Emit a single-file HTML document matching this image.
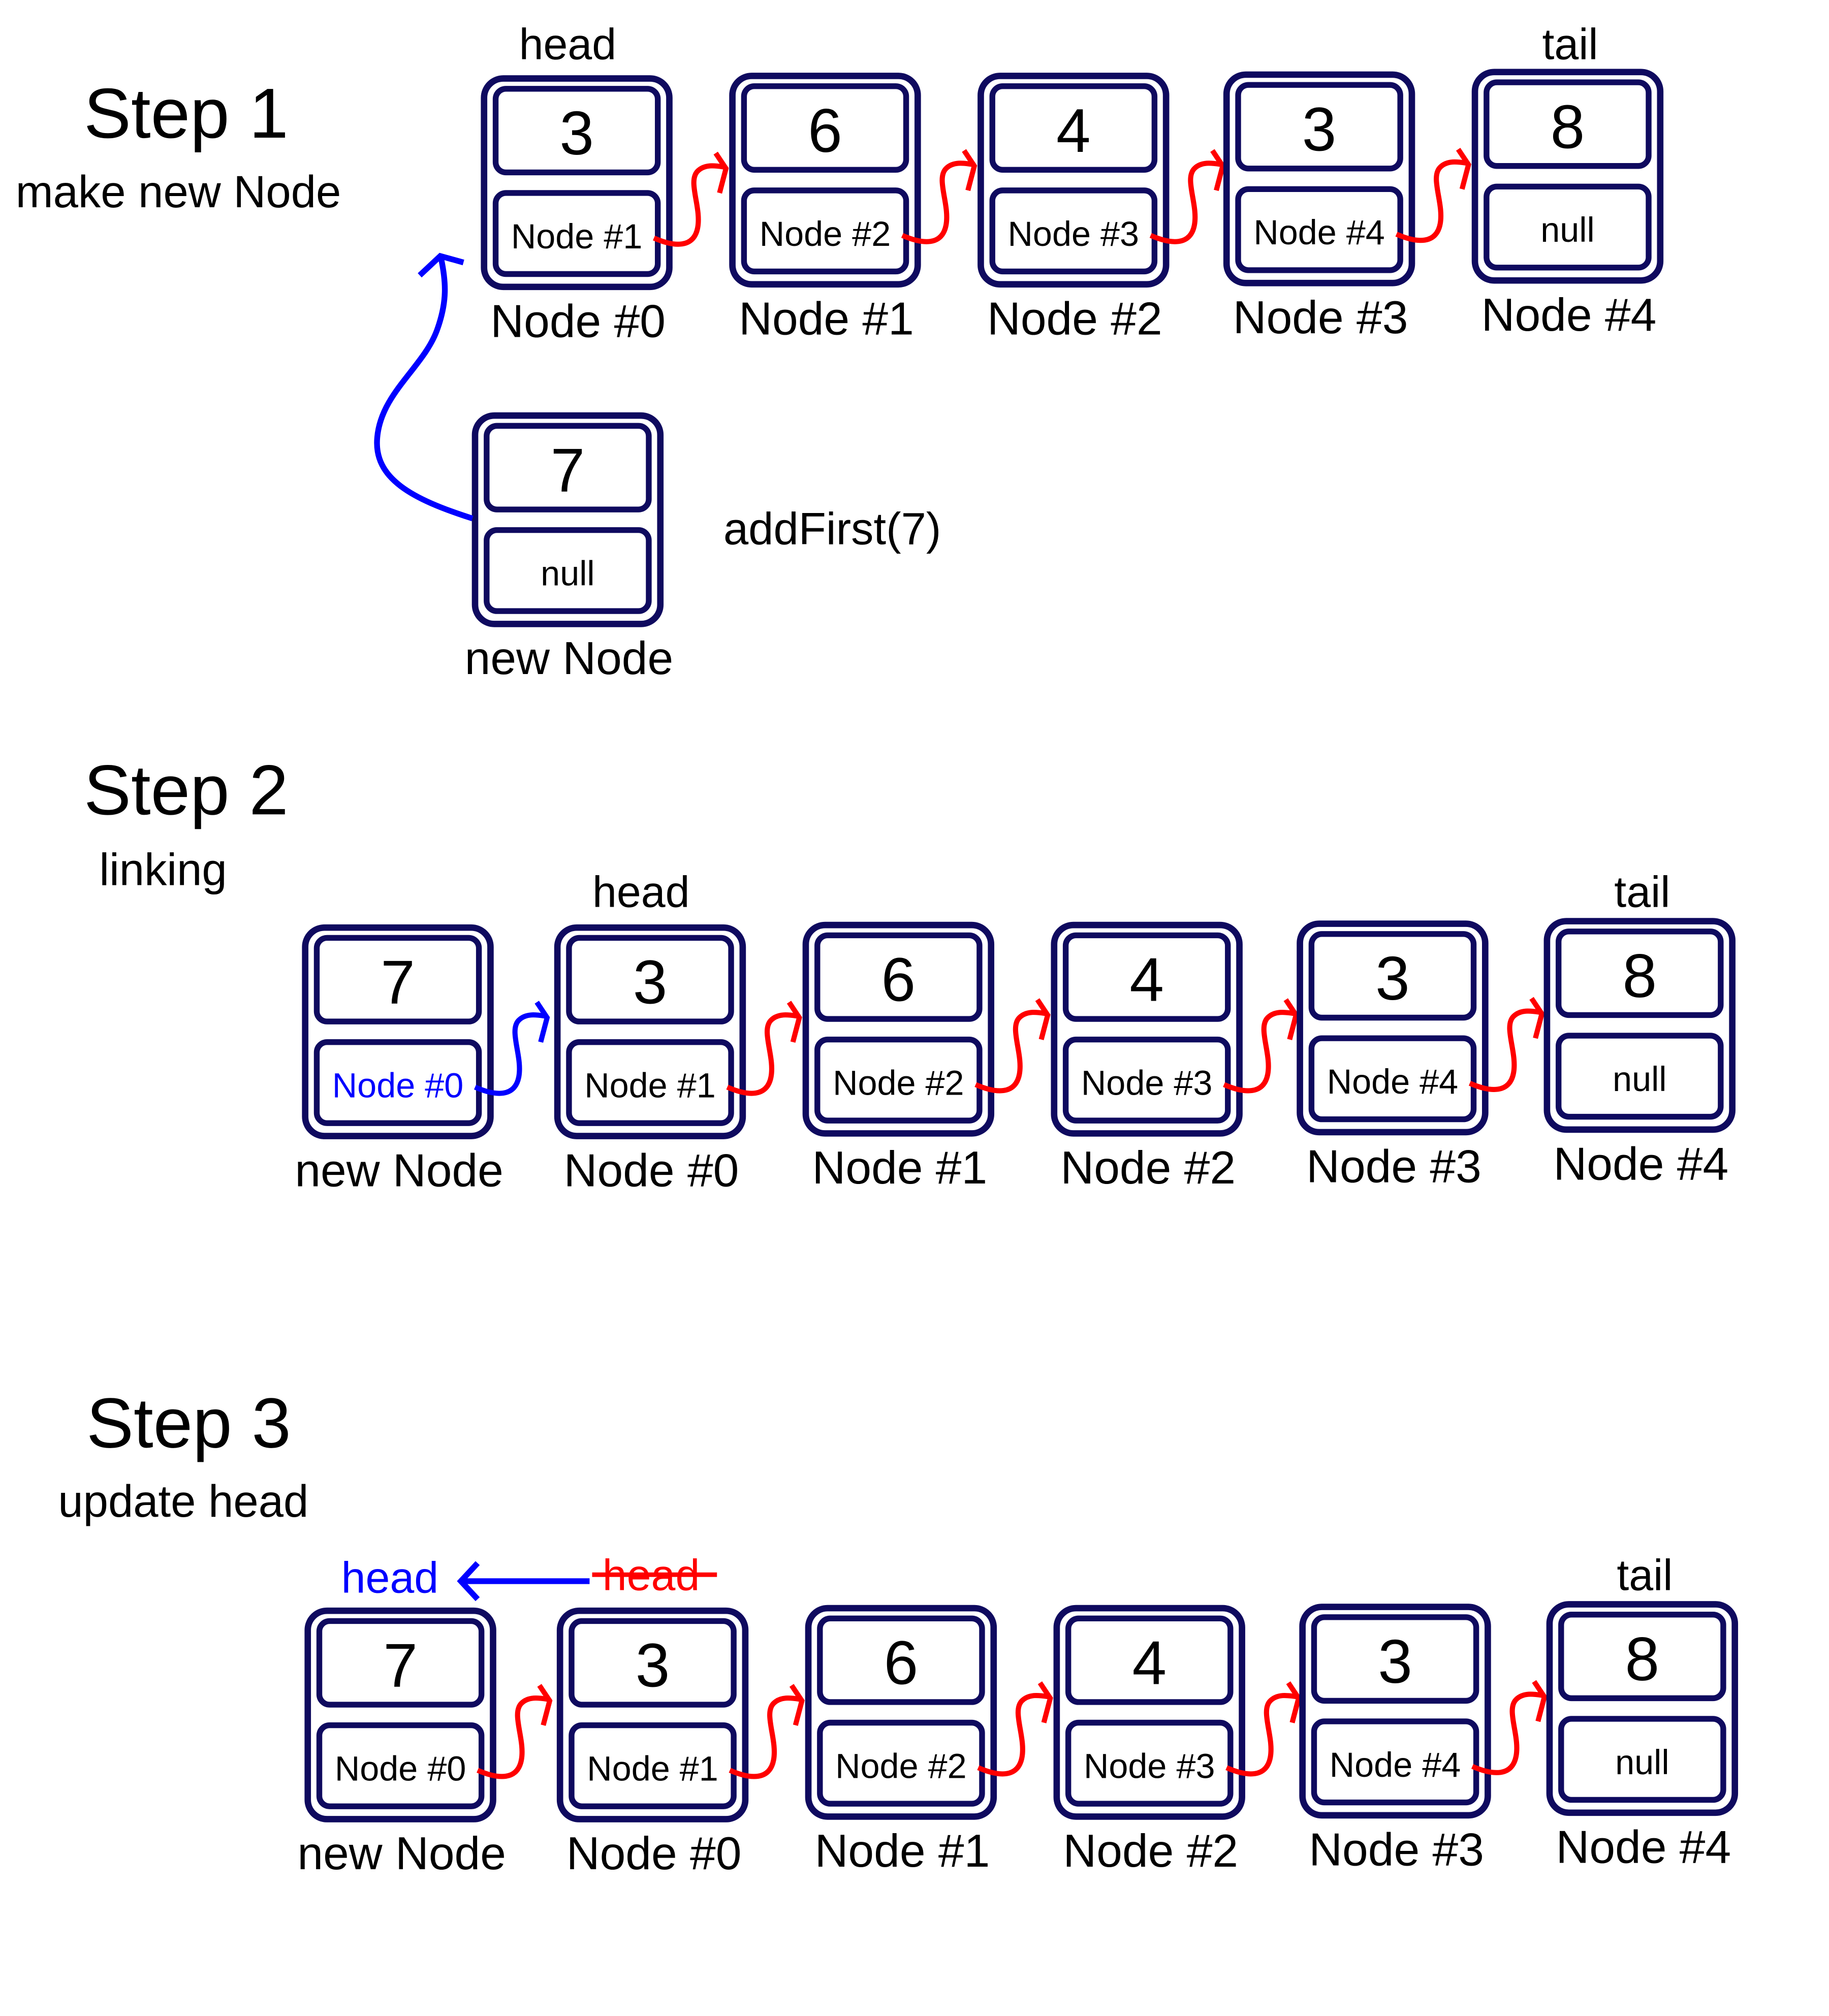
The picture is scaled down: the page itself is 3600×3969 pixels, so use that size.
<!DOCTYPE html>
<html><head><meta charset="utf-8"><style>
html,body{margin:0;padding:0;background:#fff;}
svg{display:block;}
text{font-family:"Liberation Sans",sans-serif;fill:#000;}
</style></head><body>
<svg width="3600" height="3969" viewBox="0 0 1421 1567" xmlns="http://www.w3.org/2000/svg">
<defs>
<g id="fr" fill="none" stroke="#0f0a5f">
<rect x="2" y="2" width="144" height="162" rx="15" stroke-width="5"/>
<rect x="11" y="10" width="126" height="65" rx="8" stroke-width="4.5"/>
<rect x="11" y="91" width="126" height="63" rx="8" stroke-width="4.5"/>
</g>
<g id="cr" fill="none" stroke="#ff0000" stroke-width="4">
<path d="M134,126 C150,133 165,134 168,118 C171,102 160,82 168,74 C174,68 183,70 190,71"/>
<path d="M182,60 L190,72 L185,91"/>
</g>
<g id="cb" fill="none" stroke="#0000ff" stroke-width="4">
<path d="M134,126 C150,133 165,134 168,118 C171,102 160,82 168,74 C174,68 183,70 190,71"/>
<path d="M182,60 L190,72 L185,91"/>
</g>
</defs>

<!-- Step 1 -->
<text x="65" y="107" font-size="55">Step 1</text>
<text x="12" y="161" font-size="35">make new Node</text>
<text x="441" y="46" font-size="34" text-anchor="middle">head</text>
<text x="1220" y="46" font-size="34" text-anchor="middle">tail</text>

<g transform="translate(374,59)"><use href="#fr"/><use href="#cr"/><text x="74" y="61" font-size="48" text-anchor="middle">3</text><text x="74" y="134" font-size="27" text-anchor="middle">Node #1</text><text x="75" y="203" font-size="36" text-anchor="middle">Node #0</text></g>
<g transform="translate(567,57)"><use href="#fr"/><use href="#cr"/><text x="74" y="61" font-size="48" text-anchor="middle">6</text><text x="74" y="134" font-size="27" text-anchor="middle">Node #2</text><text x="75" y="203" font-size="36" text-anchor="middle">Node #1</text></g>
<g transform="translate(760,57)"><use href="#fr"/><use href="#cr"/><text x="74" y="61" font-size="48" text-anchor="middle">4</text><text x="74" y="134" font-size="27" text-anchor="middle">Node #3</text><text x="75" y="203" font-size="36" text-anchor="middle">Node #2</text></g>
<g transform="translate(951,56)"><use href="#fr"/><use href="#cr"/><text x="74" y="61" font-size="48" text-anchor="middle">3</text><text x="74" y="134" font-size="27" text-anchor="middle">Node #4</text><text x="75" y="203" font-size="36" text-anchor="middle">Node #3</text></g>
<g transform="translate(1144,54)"><use href="#fr"/><text x="74" y="61" font-size="48" text-anchor="middle">8</text><text x="74" y="134" font-size="27" text-anchor="middle">null</text><text x="75" y="203" font-size="36" text-anchor="middle">Node #4</text></g>

<g transform="translate(367,321)"><use href="#fr"/><text x="74" y="61" font-size="48" text-anchor="middle">7</text><text x="74" y="134" font-size="27" text-anchor="middle">null</text><text x="75" y="203" font-size="36" text-anchor="middle">new Node</text></g>
<text x="562" y="423" font-size="35">addFirst(7)</text>
<g fill="none" stroke="#0000ff" stroke-width="4.5">
<path d="M367,403 C320,388 290,372 293,340 C296,305 330,285 340,255 C347,235 347,220 342,198"/>
<path d="M326,214 L342,199 L360,204"/>
</g>

<!-- Step 2 -->
<text x="65" y="633" font-size="55">Step 2</text>
<text x="77" y="688" font-size="35">linking</text>
<text x="498" y="705" font-size="34" text-anchor="middle">head</text>
<text x="1276" y="705" font-size="34" text-anchor="middle">tail</text>

<g transform="translate(235,719)"><use href="#fr"/><use href="#cb"/><text x="74" y="61" font-size="48" text-anchor="middle">7</text><text x="74" y="134" font-size="27" text-anchor="middle" style="fill:#0000ff">Node #0</text><text x="75" y="203" font-size="36" text-anchor="middle">new Node</text></g>
<g transform="translate(431,719)"><use href="#fr"/><use href="#cr"/><text x="74" y="61" font-size="48" text-anchor="middle">3</text><text x="74" y="134" font-size="27" text-anchor="middle">Node #1</text><text x="75" y="203" font-size="36" text-anchor="middle">Node #0</text></g>
<g transform="translate(624,717)"><use href="#fr"/><use href="#cr"/><text x="74" y="61" font-size="48" text-anchor="middle">6</text><text x="74" y="134" font-size="27" text-anchor="middle">Node #2</text><text x="75" y="203" font-size="36" text-anchor="middle">Node #1</text></g>
<g transform="translate(817,717)"><use href="#fr"/><use href="#cr"/><text x="74" y="61" font-size="48" text-anchor="middle">4</text><text x="74" y="134" font-size="27" text-anchor="middle">Node #3</text><text x="75" y="203" font-size="36" text-anchor="middle">Node #2</text></g>
<g transform="translate(1008,716)"><use href="#fr"/><use href="#cr"/><text x="74" y="61" font-size="48" text-anchor="middle">3</text><text x="74" y="134" font-size="27" text-anchor="middle">Node #4</text><text x="75" y="203" font-size="36" text-anchor="middle">Node #3</text></g>
<g transform="translate(1200,714)"><use href="#fr"/><text x="74" y="61" font-size="48" text-anchor="middle">8</text><text x="74" y="134" font-size="27" text-anchor="middle">null</text><text x="75" y="203" font-size="36" text-anchor="middle">Node #4</text></g>

<!-- Step 3 -->
<text x="67" y="1125" font-size="55">Step 3</text>
<text x="45" y="1179" font-size="35">update head</text>
<text x="265" y="1238" font-size="34" style="fill:#0000ff">head</text>
<g fill="none" stroke="#0000ff" stroke-width="4.5">
<path d="M458,1229 L357,1229"/>
<path d="M371,1215 L358,1229 L371,1243"/>
</g>
<text x="468" y="1236" font-size="34" style="fill:#ff0000">head</text>
<path d="M460,1224 L557,1224" stroke="#ff0000" stroke-width="3.5"/>
<text x="1278" y="1236" font-size="34" text-anchor="middle">tail</text>

<g transform="translate(237,1250)"><use href="#fr"/><use href="#cr"/><text x="74" y="61" font-size="48" text-anchor="middle">7</text><text x="74" y="134" font-size="27" text-anchor="middle">Node #0</text><text x="75" y="203" font-size="36" text-anchor="middle">new Node</text></g>
<g transform="translate(433,1250)"><use href="#fr"/><use href="#cr"/><text x="74" y="61" font-size="48" text-anchor="middle">3</text><text x="74" y="134" font-size="27" text-anchor="middle">Node #1</text><text x="75" y="203" font-size="36" text-anchor="middle">Node #0</text></g>
<g transform="translate(626,1248)"><use href="#fr"/><use href="#cr"/><text x="74" y="61" font-size="48" text-anchor="middle">6</text><text x="74" y="134" font-size="27" text-anchor="middle">Node #2</text><text x="75" y="203" font-size="36" text-anchor="middle">Node #1</text></g>
<g transform="translate(819,1248)"><use href="#fr"/><use href="#cr"/><text x="74" y="61" font-size="48" text-anchor="middle">4</text><text x="74" y="134" font-size="27" text-anchor="middle">Node #3</text><text x="75" y="203" font-size="36" text-anchor="middle">Node #2</text></g>
<g transform="translate(1010,1247)"><use href="#fr"/><use href="#cr"/><text x="74" y="61" font-size="48" text-anchor="middle">3</text><text x="74" y="134" font-size="27" text-anchor="middle">Node #4</text><text x="75" y="203" font-size="36" text-anchor="middle">Node #3</text></g>
<g transform="translate(1202,1245)"><use href="#fr"/><text x="74" y="61" font-size="48" text-anchor="middle">8</text><text x="74" y="134" font-size="27" text-anchor="middle">null</text><text x="75" y="203" font-size="36" text-anchor="middle">Node #4</text></g>
</svg>
</body></html>
